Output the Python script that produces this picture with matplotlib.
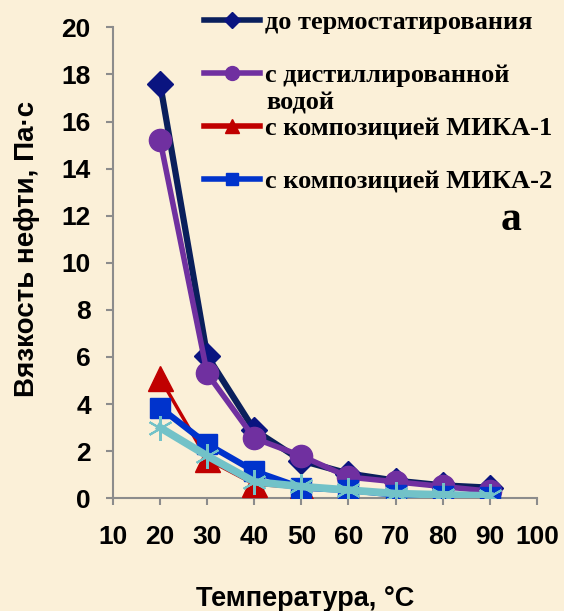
import numpy as np
import matplotlib.pyplot as plt
from matplotlib.lines import Line2D

# data
temp = [20, 30, 40, 50, 60, 70, 80, 90]
before = [17.6, 6.05, 2.9, 1.6, 1.05, 0.75, 0.55, 0.45]
dist_water = [15.2, 5.3, 2.55, 1.8, 0.9, 0.7, 0.5, 0.3]
mika1 = [5.1, 1.65, 0.6, 0.45, 0.3, 0.15, 0.1, 0.05]
mika2 = [3.85, 2.3, 1.15, 0.45, 0.35, 0.15, 0.1, 0.05]
cyan_s = [3.0, 1.8, 0.7, 0.5, 0.35, 0.2, 0.15, 0.1]

labels = ["до термостатирования", "с дистиллированной",
          "с композицией МИКА-1", "с композицией МИКА-2"]

bg = '#fbf0d8'
fig = plt.figure(figsize=(5.64, 6.11), dpi=100, facecolor=bg)
ax = fig.add_axes([0.2004, 0.1845, 0.7514, 0.7708])
ax.set_facecolor('none')

# series
ax.plot(temp, before, color='#0a1f5c', lw=4.5, marker='D', ms=13,
        mfc='#0a1480', mec='#0a1480', zorder=2)
ax.plot(temp, dist_water, color='#7030a0', lw=4, marker='o', ms=16,
        mfc='#7030a0', mec='#7030a0', zorder=3)
ax.plot(temp, mika1, color='#c00000', lw=2.5, marker='^', ms=18,
        mfc='#c00000', mec='#c00000', zorder=4)
ax.plot(temp, mika2, color='#0033cc', lw=4.5, marker='s', ms=15,
        mfc='#0033cc', mec='#0033cc', zorder=5)
ax.plot(temp, cyan_s, color='#72c2c8', lw=5.5, marker=(6, 2, 0), ms=18,
        mew=1.5, mec='#72c2c8', zorder=6)

ax.set_xlim(10, 100)
ax.set_ylim(0, 20)
ax.set_xticks(np.arange(10, 101, 10))
ax.set_yticks(np.arange(0, 21, 2))
for s in ['top', 'right']:
    ax.spines[s].set_visible(False)
for s in ['left', 'bottom']:
    ax.spines[s].set_color('#8c8c8c')
    ax.spines[s].set_linewidth(1.5)
ax.tick_params(direction='out', length=5, width=1.5, color='#8c8c8c',
               labelsize=19)
ax.tick_params(axis='y', pad=11)
ax.tick_params(axis='x', pad=14)
for t in ax.get_xticklabels() + ax.get_yticklabels():
    t.set_fontfamily('Liberation Sans')
    t.set_fontweight('bold')

ax.set_ylabel('Вязкость нефти, Па·с', fontsize=20, fontweight='bold',
              family='Liberation Sans')
ax.yaxis.set_label_coords(-0.172, 0.53)
ax.set_xlabel('Температура, °С', fontsize=19.5, fontweight='bold',
              family='Liberation Sans')
ax.xaxis.set_label_coords(0.453, -0.241)
ax.xaxis.label.set_va('bottom')

# legend
handles = [
    Line2D([], [], color='#0a1f5c', lw=4, marker='D', ms=8, mfc='#0a1480', mec='#0a1480'),
    Line2D([], [], color='#7030a0', lw=4, marker='o', ms=10, mfc='#7030a0', mec='#7030a0'),
    Line2D([], [], color='#c00000', lw=4, marker='^', ms=10, mfc='#c00000', mec='#c00000'),
    Line2D([], [], color='#0033cc', lw=4, marker='s', ms=9, mfc='#0033cc', mec='#0033cc'),
]
leg = ax.legend(handles, labels, loc='upper left', bbox_to_anchor=(0.215, 1.035),
                frameon=False, handlelength=2.1, handletextpad=0.2,
                labelspacing=1.12, borderaxespad=0, borderpad=0,
                prop={'family': 'Liberation Serif', 'weight': 'bold', 'size': 19})
ax.text(0.362, 0.839, 'водой', transform=ax.transAxes, fontsize=19,
        fontweight='bold', family='Liberation Serif', ha='left', va='center')

ax.text(0.94, 0.59, 'а', transform=ax.transAxes, fontsize=30, fontweight='bold',
        family='Liberation Serif', ha='center', va='center')

fig.savefig('out.png', dpi=100, facecolor=bg)
